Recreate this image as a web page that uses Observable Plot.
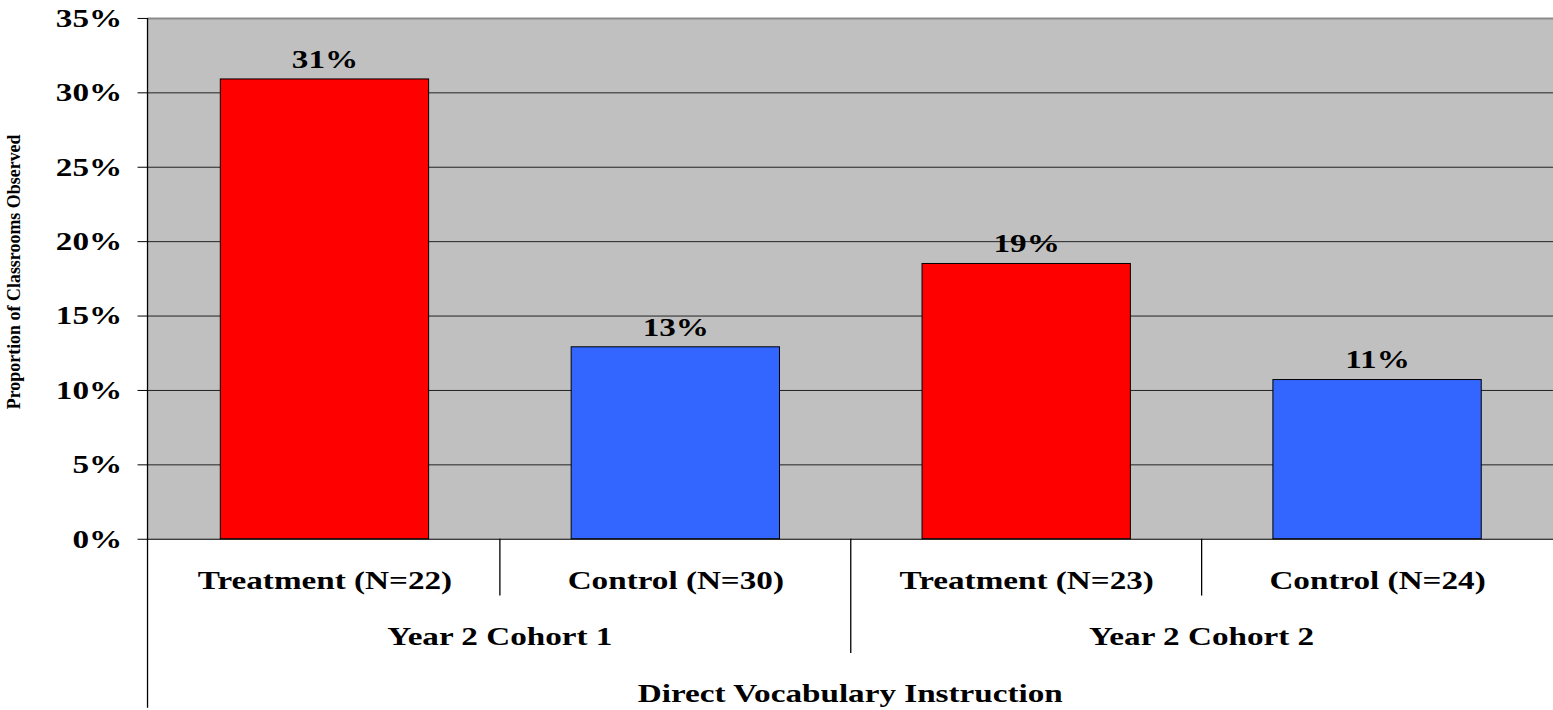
<!DOCTYPE html>
<html><head><meta charset="utf-8">
<script src="https://cdn.jsdelivr.net/npm/d3@7"></script>
<script src="https://cdn.jsdelivr.net/npm/@observablehq/plot@0.6"></script>
<style>html,body{margin:0;padding:0;overflow:hidden;background:#fff;}</style>
</head><body><div id="chart"></div>
<script>
// ---- data ----
const conditions = ["Treatment (N=22)", "Control (N=30)", "Treatment (N=23)", "Control (N=24)"];
const cohorts = ["Year 2 Cohort 1", "Year 2 Cohort 1", "Year 2 Cohort 2", "Year 2 Cohort 2"];
const groups = ["Treatment", "Control", "Treatment", "Control"];
const values = [0.309, 0.129, 0.185, 0.107];
const valueLabels = ["31%", "13%", "19%", "11%"];
const yTicks = [0, 0.05, 0.10, 0.15, 0.20, 0.25, 0.30, 0.35];
const groupNames = ["Treatment", "Control"];
const groupColors = ["#FF0000", "#3366FF"];
const xTitle = "Direct Vocabulary Instruction";
const yTitle = "Proportion of Classrooms Observed";

const data = conditions.map((c, i) => ({condition: c, cohort: cohorts[i], group: groups[i], value: values[i], label: valueLabels[i]}));

const FONT = "'Liberation Serif','Times New Roman',serif";
const FS = 26;

const plot = Plot.plot({
  width: 1558, height: 710,
  marginLeft: 148, marginRight: 0, marginTop: 18, marginBottom: 169.5,
  style: {fontFamily: FONT, fontWeight: "bold", fontSize: FS + "px", background: "#fff", color: "#000", overflow: "hidden"},
  x: {domain: conditions, paddingInner: 0.407, paddingOuter: 0.2035},
  y: {domain: [0, 0.35]},
  color: {domain: groupNames, range: groupColors},
  marks: [
    Plot.frame({fill: "#C0C0C0", stroke: "none"}),
    Plot.gridY(yTicks.slice(1, -1), {stroke: "#222", strokeOpacity: 1, strokeWidth: 1}),
    Plot.ruleY([0.35], {stroke: "#8a8a8a", strokeWidth: 2}),
    Plot.barY(data, {x: "condition", y: "value", fill: "group", stroke: "#000", strokeWidth: 1}),
    Plot.ruleY([0], {stroke: "#000", strokeWidth: 1}),
    Plot.axisY({ticks: yTicks, tickFormat: d3.format(".0%"), tickSize: 10, tickPadding: 16, fontSize: FS, label: null, stroke: "#000"}),
    Plot.axisX({tickSize: 0, tickPadding: 31, fontSize: FS, label: null}),
    Plot.text(data, {x: "condition", y: "value", text: "label", dy: -20, fontSize: FS, fontWeight: "bold"}),
    Plot.text([yTitle], {text: d => d, frameAnchor: "left", textAnchor: "middle", rotate: -90, dx: -134, dy: -7, fontSize: 18, fontWeight: "bold"})
  ]
});

document.getElementById("chart").append(plot);

// ---- hierarchical category decorations, positioned from Plot's own scales ----
const svg = d3.select(plot);
const xs = plot.scale("x"), ys = plot.scale("y");
const xf = typeof xs.apply === "function" ? xs.apply
  : d3.scaleBand(xs.domain, xs.range).paddingInner(xs.paddingInner).paddingOuter(xs.paddingOuter).align(xs.align ?? 0.5);
const yf = typeof ys.apply === "function" ? ys.apply : d3.scaleLinear(ys.domain, ys.range);
const bw = xs.bandwidth, step = xs.step;
const [xL, xR] = xs.range;
const y0 = yf(0), yTop = yf(0.35);
const H = 710;

const g = svg.append("g").attr("stroke", "#000").attr("stroke-width", 1.3);
// left axis line running to the bottom
g.append("line").attr("x1", xL).attr("x2", xL).attr("y1", yTop).attr("y2", H);
// separators
for (let i = 1; i < conditions.length; i++) {
  const bx = xf(conditions[i]) - (step - bw) / 2;
  const groupBreak = cohorts[i] !== cohorts[i - 1];
  g.append("line").attr("x1", bx).attr("x2", bx).attr("y1", y0).attr("y2", y0 + (groupBreak ? 114.5 : 57));
}
// cohort labels
const tg = svg.append("g").attr("font-size", FS).attr("font-weight", "bold").attr("text-anchor", "middle").attr("fill", "#000");
for (const c of Array.from(new Set(cohorts))) {
  const members = conditions.filter((_, i) => cohorts[i] === c);
  const cx = (xf(members[0]) + xf(members[members.length - 1]) + bw) / 2;
  tg.append("text").attr("x", cx).attr("y", y0 + 107).text(c);
}
tg.append("text").attr("x", (xL + xR) / 2).attr("y", H - 6).text(xTitle);

// horizontal stretch to mimic the wide-rendered Times text of the source
const STRETCH = 1.28;
svg.selectAll("text").each(function () {
  const t = this.getAttribute("transform") || "";
  if (t.includes("rotate")) return;
  if (this.querySelector("tspan")) return;
  const w = this.getComputedTextLength();
  if (w > 0) {
    this.setAttribute("textLength", w * STRETCH);
    this.setAttribute("lengthAdjust", "spacingAndGlyphs");
  }
});
</script>
</body></html>
